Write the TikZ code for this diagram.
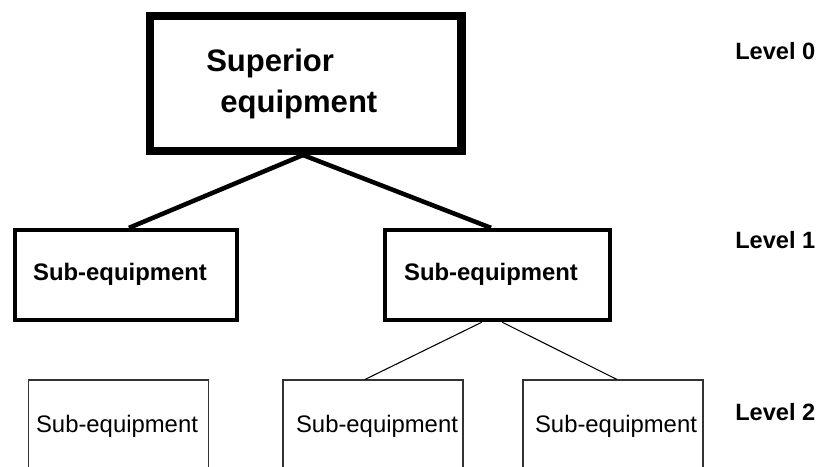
\documentclass[tikz,border=0pt]{standalone}
\usepackage{fontspec}
\setmainfont{Liberation Sans}
\usetikzlibrary{calc}

\tikzset{
  topbox/.style={draw, line width=6.4pt, rectangle, inner sep=0pt,
    minimum width=233.6pt, minimum height=100.9pt},
  midbox/.style={draw, line width=3.2pt, rectangle, inner sep=0pt,
    minimum height=67.5pt},
  lowbox/.style={draw=black!80, line width=0.8pt, rectangle, inner sep=0pt,
    minimum width=135pt, minimum height=105pt},
  toptext/.style={font=\bfseries\fontsize{23.3pt}{28pt}\selectfont, inner sep=0pt, anchor=base west},
  midtext/.style={font=\bfseries\fontsize{17.9pt}{21pt}\selectfont, inner sep=0pt, anchor=base},
  lowtext/.style={font=\fontsize{17.9pt}{21pt}\selectfont, inner sep=0pt, anchor=base},
  leveltext/.style={font=\bfseries\fontsize{17.7pt}{21pt}\selectfont, inner sep=0pt, anchor=base west},
  thicklink/.style={line width=3.4pt},
  thinlink/.style={line width=0.8pt},
}

\begin{document}
\begin{tikzpicture}[x=0.75pt, y=-0.75pt]
  \useasboundingbox (0,0) rectangle (817,467);
  \clip (0,0) rectangle (817,467);

  % level 0
  \node[topbox] (top) at (305.5,83.5) {};
  \node[toptext] (supA) at (206,72) {Superior};
  \node[toptext] (supB) at (220,113) {equipment};

  % level 1
  \node[midbox, minimum width=166.5pt] (subA) at (126,275) {};
  \node[midbox, minimum width=168.4pt] (subB) at (497.5,275) {};
  \node[midtext] (subAt) at (120,280) {Sub-equipment};
  \node[midtext] (subBt) at (491,280) {Sub-equipment};

  % level 2 (boxes run past the lower edge)
  \node[lowbox] (leafA) at (118.5,450) {};
  \node[lowbox] (leafB) at (373,450) {};
  \node[lowbox] (leafC) at (613,450) {};
  \node[lowtext] (leafAt) at (117,432) {Sub-equipment};
  \node[lowtext] (leafBt) at (377,432) {Sub-equipment};
  \node[lowtext] (leafCt) at (616,432) {Sub-equipment};

  % level captions
  \node[leveltext] (lv0) at (735,60) {Level 0};
  \node[leveltext] (lv1) at (735,248) {Level 1};
  \node[leveltext] (lv2) at (735,420) {Level 2};

  % links from the superior equipment
  \draw[thicklink] ($(top.south)+(-2.5,0)$) -- ($(subA.north)+(3,0)$);
  \draw[thicklink] ($(top.south)+(-2.5,0)$) -- ($(subB.north)+(-6.5,0)$);

  % links to the lower level
  \draw[thinlink] ($(subA.south)+(3,0)$) -- ($(subA.south)+(3,0)$ |- leafA.north);
  \draw[thinlink] ($(subB.south)+(-15.5,0)$) -- ($(leafB.north)+(-8,0)$);
  \draw[thinlink] ($(subB.south)+(4.5,0)$) -- ($(leafC.north)+(4,0)$);
\end{tikzpicture}
\end{document}
